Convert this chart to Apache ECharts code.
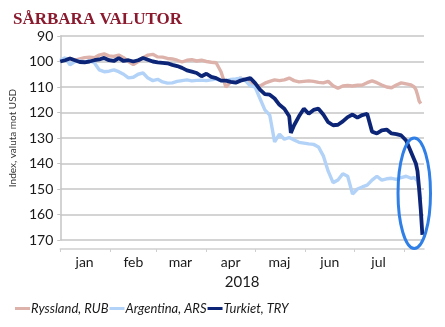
<!DOCTYPE html>
<html>
<head>
<meta charset="utf-8">
<script src="https://cdn.jsdelivr.net/npm/echarts@6/dist/echarts.min.js"></script>
<style>
html,body{margin:0;padding:0;background:#fff;}
#c{width:445px;height:327px;}
</style>
</head>
<body>
<div id="c"></div>
<script>
const titleText = 'SÅRBARA VALUTOR';
const yName = 'Index, valuta mot USD';
const xName = '2018';
const seriesNames = ['Ryssland, RUB', 'Argentina, ARS', 'Turkiet, TRY'];
const monthNames = ['jan','feb','mar','apr','maj','jun','jul','aug','sep','okt','nov','dec'];
const monthStarts = ['2018-01-01','2018-02-01','2018-03-01','2018-04-01','2018-05-01','2018-06-01','2018-07-01','2018-08-01'];
const monthLabelPos = ['2018-01-16','2018-02-15','2018-03-16','2018-04-16','2018-05-16','2018-06-16','2018-07-16'];
const xRange = ['2018-01-01','2018-08-13'];
const yTicks = [90,100,110,120,130,140,150,160,170];

const dates = [
'2018-01-01','2018-01-04','2018-01-07','2018-01-10','2018-01-13','2018-01-16','2018-01-19','2018-01-22','2018-01-25','2018-01-28',
'2018-01-31','2018-02-03','2018-02-06','2018-02-09','2018-02-12','2018-02-15','2018-02-18','2018-02-21','2018-02-24','2018-02-27',
'2018-03-02','2018-03-05','2018-03-08','2018-03-11','2018-03-14','2018-03-17','2018-03-20','2018-03-23','2018-03-26','2018-03-29',
'2018-04-01','2018-04-04','2018-04-07','2018-04-10','2018-04-13','2018-04-16','2018-04-19','2018-04-22','2018-04-25','2018-04-28',
'2018-05-01','2018-05-04','2018-05-07','2018-05-10','2018-05-13','2018-05-16','2018-05-19','2018-05-22','2018-05-23','2018-05-25',
'2018-05-28','2018-05-31','2018-06-03','2018-06-06','2018-06-09','2018-06-12','2018-06-15','2018-06-18','2018-06-21','2018-06-24',
'2018-06-27','2018-06-30','2018-07-03','2018-07-06','2018-07-09','2018-07-12','2018-07-15','2018-07-18','2018-07-21','2018-07-24',
'2018-07-27','2018-07-30','2018-08-02','2018-08-05','2018-08-07','2018-08-08','2018-08-09','2018-08-10','2018-08-11','2018-08-12'
];

const rub = [
100,99,98.8,99.5,99,98.5,98.3,98.5,97.5,97,
97.8,98,97.5,98.5,100,101.2,100,98.5,97.5,97.2,
98.2,98.3,98.8,99,99.5,100.2,99.5,99.3,99.8,99.5,
100,100.3,100.5,104,110,108,107.5,106.5,107.2,108.5,
109.4,109.6,108.5,107.8,107.2,107.5,107.2,106.5,106.8,107.5,
108,107.8,107.6,107.8,108.2,108.4,107.8,109.5,110.5,109.6,
109.4,109.6,109.3,109.2,108.3,107.6,108.3,109.2,110,110.3,
109.2,108.4,108.8,109.2,110,111,113,115.5,116.5,null
];

const ars = [
99.5,98.5,101.3,100,99.8,100.2,99.8,100.5,103.3,104,
103.8,103.3,104,105,106.4,106.2,105,104.5,106.5,107.5,
107,108,108.5,108.4,107.8,107.5,107.2,107.6,107.4,107.3,
107.5,107.2,106.9,107.5,107.5,107,106.8,106.5,107.5,109.5,
110,114.5,119,121,131.5,128.5,130.5,129.8,130,130.8,
131.7,132,132.3,132.5,133.5,137,143,147.5,146.5,144,
145,152,150,149.2,148.5,146.5,145,146.5,146,145.8,
146.2,145.5,145,145.8,145.5,145.8,146.8,150,154,null
];

const tryv = [
100,99.5,98.8,99.5,100.2,100.3,100,99.5,99.2,98.6,
99.5,99.8,98.7,99.8,99.5,100,99.5,98.6,99.3,100,
100.3,100.5,100.7,101.3,101.8,102.5,103.5,104,104.5,105.8,
104.8,106,106.5,107.5,107.5,108,108.3,107.5,107,106.5,
108.5,111,112.8,113,114.5,117,118.5,121.5,128,125,
121.5,118.5,120.5,119,118.5,120.8,123.8,125,124.8,123.5,
121.8,120.8,122,121,120.5,127.5,128.2,127,126.7,128.2,
128.5,129,131,135.5,138.5,140,143,150,158,168
];

// annotation ring around the final Turkish drop, in data units: [date from, date to, value top, value bottom]
const ringBox = ['2018-07-28','2018-08-17',130,173.3];

const colors = ['#DDB2AB','#B3D2F7','#0C2577'];
const FONT = 'Lato';

const ts = (s) => { const p = s.split('-').map(Number); return Date.UTC(p[0], p[1]-1, p[2]); };

const chart = echarts.init(document.getElementById('c'), null, {renderer:'canvas'});
const mk = (vals) => dates.map((d,i) => [ts(d), vals[i]]);

chart.setOption({
  animation:false,
  backgroundColor:'#fff',
  title:{
    text:titleText, left:8, top:6,
    textStyle:{fontFamily:'Liberation Serif', fontWeight:'bold', fontSize:17, color:'#8A1A2E'}
  },
  legend:{
    left:10, top:297, itemGap:1, itemWidth:15, itemHeight:3, icon:'rect',
    data:seriesNames,
    textStyle:{fontFamily:FONT, fontStyle:'italic', fontSize:13, color:'#1a1a1a', padding:[0,0,0,-4]}
  },
  grid:{left:50, right:21, top:36, bottom:87, containLabel:false},
  xAxis:{
    type:'value',
    min:ts(xRange[0]), max:ts(xRange[1]),
    offset:9,
    name:xName, nameLocation:'middle', nameGap:26,
    nameTextStyle:{fontFamily:FONT, fontSize:15, color:'#1a1a1a'},
    axisLine:{show:true, lineStyle:{color:'#d0d0d0', width:1.5}},
    axisTick:{show:true, length:3, inside:false, customValues:monthStarts.map(ts), lineStyle:{color:'#cfcfcf'}},
    axisLabel:{
      customValues:monthLabelPos.map(ts), margin:6,
      fontFamily:FONT, fontSize:14, color:'#1a1a1a',
      formatter:(v)=>monthNames[new Date(v).getUTCMonth()]
    },
    splitLine:{show:false}
  },
  yAxis:{
    type:'value', inverse:true, min:90, max:170, interval:10,
    name:yName, nameLocation:'middle', nameGap:33,
    nameTextStyle:{fontFamily:FONT, fontSize:10, color:'#333'},
    axisLine:{show:true, lineStyle:{color:'#c4c4c4', width:1.5}},
    axisTick:{show:true, length:3, lineStyle:{color:'#c4c4c4'}},
    axisLabel:{fontFamily:FONT, fontSize:14, color:'#1a1a1a', margin:7,
      formatter:(v)=> yTicks.includes(v) ? String(v) : ''},
    splitLine:{show:true, lineStyle:{color:'#c6c6c6', width:1.5}}
  },
  series:[
    {name:seriesNames[0], type:'line', data:mk(rub), symbol:'none', showSymbol:false,
     lineStyle:{color:colors[0], width:3.4}, itemStyle:{color:colors[0]}, z:2},
    {name:seriesNames[1], type:'line', data:mk(ars), symbol:'none', showSymbol:false,
     lineStyle:{color:colors[1], width:3.4}, itemStyle:{color:colors[1]}, z:3},
    {name:seriesNames[2], type:'line', data:mk(tryv), symbol:'none', showSymbol:false,
     lineStyle:{color:colors[2], width:3.8}, itemStyle:{color:colors[2]}, z:4}
  ]
});

const p1 = chart.convertToPixel({gridIndex:0}, [ts(ringBox[0]), ringBox[2]]);
const p2 = chart.convertToPixel({gridIndex:0}, [ts(ringBox[1]), ringBox[3]]);
chart.setOption({
  graphic:[{
    type:'ellipse', z:100,
    shape:{cx:(p1[0]+p2[0])/2, cy:(p1[1]+p2[1])/2, rx:Math.abs(p2[0]-p1[0])/2, ry:Math.abs(p2[1]-p1[1])/2},
    style:{fill:'none', stroke:'#2F7FE6', lineWidth:3}
  }]
});
</script>
</body>
</html>
